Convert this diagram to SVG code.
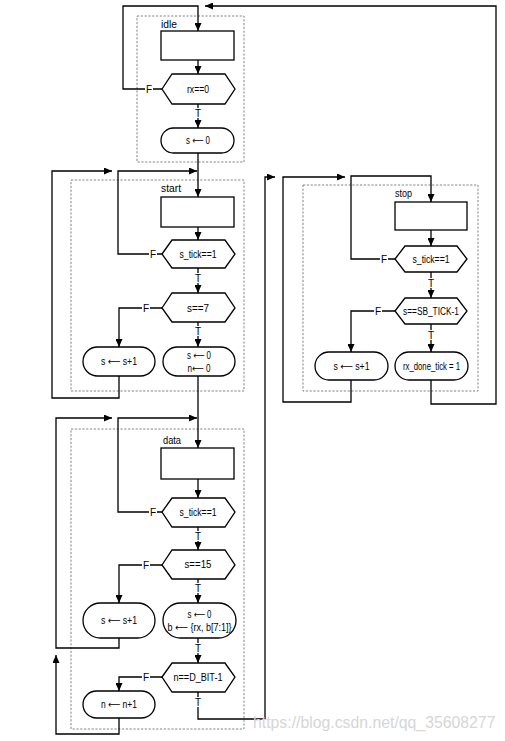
<svg xmlns="http://www.w3.org/2000/svg" width="505" height="741" viewBox="0 0 505 741">
<defs>
<marker id="ah" markerUnits="userSpaceOnUse" markerWidth="8" markerHeight="7" refX="8" refY="3.5" orient="auto">
<path d="M0,0 L8,3.5 L0,7 z" fill="#000"/>
</marker>
<style>
.box{fill:none;stroke:#777;stroke-width:0.9;stroke-dasharray:2.2,1.6}
.shape{fill:#fff;stroke:#000;stroke-width:1.3}
.arr{fill:none;stroke:#000;stroke-width:1.3;marker-end:url(#ah)}
text{font-family:"Liberation Sans","DejaVu Sans",Arial,sans-serif;fill:#000}
.t{font-size:10px;text-anchor:middle;dominant-baseline:central}
.st{font-size:10.5px}
.lbl{font-size:10px;text-anchor:middle;dominant-baseline:central}
.bg{fill:#fff}
.wm{font-size:15.8px;fill:#d6d6d6}
</style>
</defs>
<rect width="505" height="741" fill="#fff"/>

<g id="idle">
<rect class="box" x="137" y="16" width="107" height="146"/>
<text class="st" x="161" y="28" textLength="16" lengthAdjust="spacingAndGlyphs">idle</text>
<rect id="idle-rect" class="shape" x="161" y="31" width="73" height="29"/>
<g id="idle-rx"><polygon class="shape" points="162,89 172,74 225,74 235,89 225,104 172,104"/><text class="t" x="198" y="89" textLength="22" lengthAdjust="spacingAndGlyphs">rx==0</text></g>
<g id="idle-s0"><rect class="shape" x="161" y="128" width="73" height="25" rx="12.5"/><text class="t" x="198" y="140.5" textLength="24" lengthAdjust="spacingAndGlyphs">s ⟵ 0</text></g>
</g>

<g id="start">
<rect class="box" x="71" y="180" width="173" height="211"/>
<text class="st" x="161" y="192" textLength="20" lengthAdjust="spacingAndGlyphs">start</text>
<rect id="start-rect" class="shape" x="161" y="197" width="73" height="30"/>
<g id="start-tick"><polygon class="shape" points="162,254 172,240 225,240 235,254 225,268 172,268"/><text class="t" x="198" y="254" textLength="37" lengthAdjust="spacingAndGlyphs">s_tick==1</text></g>
<g id="start-s7"><polygon class="shape" points="162,308 172,293 225,293 235,308 225,322 172,322"/><text class="t" x="198" y="308" textLength="22" lengthAdjust="spacingAndGlyphs">s==7</text></g>
<g id="start-inc"><rect class="shape" x="83" y="347" width="72" height="29" rx="14.5"/><text class="t" x="119" y="361.5" textLength="36" lengthAdjust="spacingAndGlyphs">s ⟵ s+1</text></g>
<g id="start-reset"><rect class="shape" x="163" y="347" width="72" height="29" rx="14.5"/><text class="t" x="199" y="355" textLength="24" lengthAdjust="spacingAndGlyphs">s ⟵ 0</text><text class="t" x="199" y="368" textLength="23" lengthAdjust="spacingAndGlyphs">n⟵ 0</text></g>
</g>

<g id="data">
<rect class="box" x="71" y="429" width="173" height="300"/>
<text class="st" x="163" y="444" textLength="18" lengthAdjust="spacingAndGlyphs">data</text>
<rect id="data-rect" class="shape" x="161" y="448" width="73" height="31"/>
<g id="data-tick"><polygon class="shape" points="162,512 172,498 225,498 235,512 225,527 172,527"/><text class="t" x="198" y="512" textLength="37" lengthAdjust="spacingAndGlyphs">s_tick==1</text></g>
<g id="data-s15"><polygon class="shape" points="162,565 172,550 225,550 235,565 225,579 172,579"/><text class="t" x="198" y="564" textLength="27" lengthAdjust="spacingAndGlyphs">s==15</text></g>
<g id="data-inc"><rect class="shape" x="83" y="603" width="72" height="35" rx="17.5"/><text class="t" x="119" y="620.5" textLength="36" lengthAdjust="spacingAndGlyphs">s ⟵ s+1</text></g>
<g id="data-shift"><rect class="shape" x="163" y="603" width="73" height="35" rx="17.5"/><text class="t" x="199.5" y="614" textLength="24" lengthAdjust="spacingAndGlyphs">s ⟵ 0</text><text class="t" x="199.5" y="627" textLength="64" lengthAdjust="spacingAndGlyphs">b ⟵ {rx, b[7:1]}</text></g>
<g id="data-n"><polygon class="shape" points="162,677 172,663 225,663 235,677 225,692 172,692"/><text class="t" x="198" y="677" textLength="49" lengthAdjust="spacingAndGlyphs">n==D_BIT-1</text></g>
<g id="data-ninc"><rect class="shape" x="83" y="691" width="72" height="27" rx="13.5"/><text class="t" x="119" y="704.5" textLength="36" lengthAdjust="spacingAndGlyphs">n ⟵ n+1</text></g>
</g>

<g id="stop">
<rect class="box" x="303" y="185" width="175" height="206"/>
<text class="st" x="395" y="197" textLength="17" lengthAdjust="spacingAndGlyphs">stop</text>
<rect id="stop-rect" class="shape" x="395" y="202" width="72" height="28"/>
<g id="stop-tick"><polygon class="shape" points="395,259 405,246 457,246 467,259 457,272 405,272"/><text class="t" x="431" y="259" textLength="37" lengthAdjust="spacingAndGlyphs">s_tick==1</text></g>
<g id="stop-sb"><polygon class="shape" points="395,311 405,298 457,298 467,311 457,324 405,324"/><text class="t" x="431" y="311" textLength="56" lengthAdjust="spacingAndGlyphs">s==SB_TICK-1</text></g>
<g id="stop-inc"><rect class="shape" x="315" y="352" width="73" height="28" rx="14"/><text class="t" x="351.5" y="366" textLength="36" lengthAdjust="spacingAndGlyphs">s ⟵ s+1</text></g>
<g id="stop-done"><rect class="shape" x="395" y="352" width="73" height="28" rx="14"/><text class="t" x="431.5" y="366" textLength="57" lengthAdjust="spacingAndGlyphs">rx_done_tick = 1</text></g>
</g>

<g id="connectors">
<path class="arr" d="M162,89 H123 V6 H198 V31"/>
<path class="arr" d="M198,60 V74"/>
<path class="arr" d="M198,104 V128"/>
<path class="arr" d="M198,153 V197"/>
<path class="arr" d="M198,227 V240"/>
<path class="arr" d="M162,254 H118 V171 H197"/>
<path class="arr" d="M198,268 V293"/>
<path class="arr" d="M162,308 H119 V347"/>
<path class="arr" d="M198,322 V347"/>
<path class="arr" d="M119,376 V398 H52 V171 H112"/>
<path class="arr" d="M198,376 V448"/>
<path class="arr" d="M198,479 V498"/>
<path class="arr" d="M162,512 H118 V418 H197"/>
<path class="arr" d="M198,527 V550"/>
<path class="arr" d="M162,565 H119 V603"/>
<path class="arr" d="M198,579 V603"/>
<path class="arr" d="M119,638 V648 H56 V418 H112"/>
<path class="arr" d="M198,638 V663"/>
<path class="arr" d="M162,677 H119 V691"/>
<path class="arr" d="M119,718 V734 H56 V655"/>
<path class="arr" d="M198,692 V719 H265 V177 H275"/>
<path class="arr" d="M395,259 H351 V176 H431 V202"/>
<path class="arr" d="M431,230 V246"/>
<path class="arr" d="M431,272 V298"/>
<path class="arr" d="M395,311 H351 V352"/>
<path class="arr" d="M431,324 V352"/>
<path class="arr" d="M351,380 V402 H283 V177 H345"/>
<path class="arr" d="M431,380 V404 H496 V6 H205"/>
<g id="labels">
<rect class="bg" x="145" y="84" width="8" height="10"/><text class="lbl" x="149" y="89">F</text>
<rect class="bg" x="194" y="108" width="8" height="10"/><text class="lbl" x="198" y="113">T</text>
<rect class="bg" x="149" y="249" width="8" height="10"/><text class="lbl" x="153" y="254">F</text>
<rect class="bg" x="194" y="273" width="8" height="10"/><text class="lbl" x="198" y="278">T</text>
<rect class="bg" x="142" y="303" width="8" height="10"/><text class="lbl" x="146" y="308">F</text>
<rect class="bg" x="194" y="326" width="8" height="10"/><text class="lbl" x="198" y="331">T</text>
<rect class="bg" x="149" y="507" width="8" height="10"/><text class="lbl" x="153" y="512">F</text>
<rect class="bg" x="194" y="531" width="8" height="10"/><text class="lbl" x="198" y="536">T</text>
<rect class="bg" x="142" y="560" width="8" height="10"/><text class="lbl" x="146" y="565">F</text>
<rect class="bg" x="194" y="583" width="8" height="10"/><text class="lbl" x="198" y="588">T</text>
<rect class="bg" x="194" y="643" width="8" height="10"/><text class="lbl" x="198" y="648">T</text>
<rect class="bg" x="142" y="672" width="8" height="10"/><text class="lbl" x="146" y="677">F</text>
<rect class="bg" x="194" y="697" width="8" height="10"/><text class="lbl" x="198" y="702">T</text>
<rect class="bg" x="380" y="254" width="8" height="10"/><text class="lbl" x="384" y="259">F</text>
<rect class="bg" x="427" y="278" width="8" height="10"/><text class="lbl" x="431" y="283">T</text>
<rect class="bg" x="374" y="306" width="8" height="10"/><text class="lbl" x="378" y="311">F</text>
<rect class="bg" x="427" y="330" width="8" height="10"/><text class="lbl" x="431" y="335">T</text>
</g>
</g>

<text class="wm" x="253" y="728">https://blog.csdn.net/qq_35608277</text>
</svg>
